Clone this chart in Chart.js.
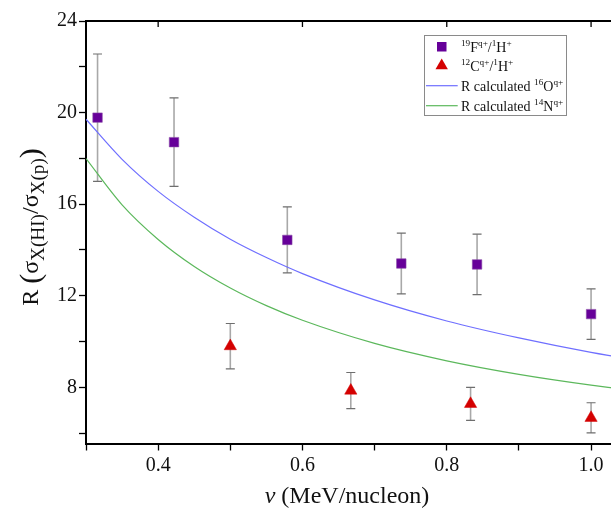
<!DOCTYPE html>
<html lang="en">

<head>
  <meta charset="UTF-8">
  <title>R ratio vs velocity</title>
  <script src="https://cdn.jsdelivr.net/npm/chart.js"></script>
  <style>
    body {
      margin: 0;
      background: #ffffff;
      overflow: hidden;
    }

    canvas {
      display: block;
    }
  </style>
</head>

<body>
  <canvas id="ratioChart" width="660" height="511"></canvas>

  <script>
    // measured points: 19F / 1H
    const fV = [0.316, 0.422, 0.579, 0.737, 0.842, 1.0];
    const fR = [19.78, 18.71, 14.44, 13.41, 13.37, 11.20];
    const fErr = [2.78, 1.93, 1.44, 1.33, 1.32, 1.10];

    // measured points: 12C / 1H
    const cV = [0.5, 0.667, 0.833, 1.0];
    const cR = [9.80, 7.86, 7.28, 6.67];
    const cErr = [0.99, 0.79, 0.72, 0.66];

    // calculated curves
    const curveV = [0.30, 0.35, 0.40, 0.45, 0.50, 0.55, 0.60, 0.70, 0.80, 0.90, 1.00, 1.085];
    const oxygenR = [19.71, 17.96, 16.56, 15.43, 14.47, 13.67, 12.97, 11.82, 10.90, 10.16, 9.53, 9.08];
    const nitrogenR = [17.99, 15.97, 14.46, 13.28, 12.34, 11.57, 10.93, 9.92, 9.16, 8.57, 8.10, 7.77];

    // axis ticks
    const xMajor = [0.4, 0.6, 0.8, 1.0];
    const xMinor = [0.3, 0.5, 0.7, 0.9];
    const yMajor = [8, 12, 16, 20, 24];
    const yMinor = [6, 10, 14, 18, 22];

    const SERIF = '"Liberation Serif", "DejaVu Serif", serif';

    const legendRows = [
      [["19", "sup"], ["F", ""], ["q+", "sup"], ["/", ""], ["1", "sup"], ["H", ""], ["+", "sup"]],
      [["12", "sup"], ["C", ""], ["q+", "sup"], ["/", ""], ["1", "sup"], ["H", ""], ["+", "sup"]],
      [["R calculated ", ""], ["16", "sup"], ["O", ""], ["q+", "sup"]],
      [["R calculated ", ""], ["14", "sup"], ["N", ""], ["q+", "sup"]]
    ];
    const yTitle = [["R ", ""], ["(", "big"], ["σ", ""], ["X(HI)", "sub"], ["/", ""], ["σ", ""], ["X(p)", "sub"], [")", "big"]];

    const toPoints = (xs, ys) => xs.map((v, i) => ({ x: v, y: ys[i] }));
    const near = (v, list) => list.some(t => Math.abs(t - v) < 1e-6);

    function partSize(kind, size) {
      if (kind === 'big') return size * 1.25;
      if (kind === 'sub') return size * 0.8;
      if (kind === 'sup') return size * 0.66;
      return size;
    }

    function richWidth(ctx, parts, size) {
      let w = 0;
      parts.forEach(([t, kind]) => {
        ctx.font = partSize(kind, size) + 'px ' + SERIF;
        w += ctx.measureText(t).width;
      });
      return w;
    }

    function drawRich(ctx, parts, x, y, size) {
      parts.forEach(([t, kind]) => {
        ctx.font = partSize(kind, size) + 'px ' + SERIF;
        const dy = kind === 'sup' ? -size * 0.38 : kind === 'sub' ? size * 0.25 : kind === 'big' ? size * 0.08 : 0;
        ctx.fillText(t, x, y + dy);
        x += ctx.measureText(t).width;
      });
      return x;
    }

    const errorBars = {
      id: 'errorBars',
      beforeDatasetsDraw(chart) {
        const { ctx, scales: { x, y } } = chart;
        ctx.save();
        [[fV, fR, fErr], [cV, cR, cErr]].forEach(([vs, rs, es]) => {
          vs.forEach((v, i) => {
            const px = x.getPixelForValue(v);
            const top = y.getPixelForValue(rs[i] + es[i]);
            const bot = y.getPixelForValue(rs[i] - es[i]);
            ctx.strokeStyle = '#a8a8a8';
            ctx.lineWidth = 1.6;
            ctx.beginPath();
            ctx.moveTo(px, top);
            ctx.lineTo(px, bot);
            ctx.stroke();
            ctx.strokeStyle = '#6e6e6e';
            ctx.lineWidth = 1.2;
            ctx.beginPath();
            ctx.moveTo(px - 4.5, top);
            ctx.lineTo(px + 4.5, top);
            ctx.moveTo(px - 4.5, bot);
            ctx.lineTo(px + 4.5, bot);
            ctx.stroke();
          });
        });
        ctx.restore();
      }
    };

    const decorations = {
      id: 'decorations',
      afterDraw(chart) {
        const { ctx, chartArea, scales: { x } } = chart;
        ctx.save();

        // top frame line with inward major ticks
        ctx.strokeStyle = '#000';
        ctx.lineWidth = 2;
        ctx.beginPath();
        ctx.moveTo(chartArea.left - 1, chartArea.top);
        ctx.lineTo(chartArea.right, chartArea.top);
        ctx.stroke();
        ctx.lineWidth = 1.3;
        ctx.beginPath();
        xMajor.forEach(v => {
          const px = x.getPixelForValue(v);
          ctx.moveTo(px, chartArea.top);
          ctx.lineTo(px, chartArea.top + 6);
        });
        ctx.stroke();

        // axis titles
        ctx.fillStyle = '#111';
        ctx.textBaseline = 'alphabetic';
        ctx.textAlign = 'left';
        ctx.font = 'italic 24px ' + SERIF;
        const vw = ctx.measureText('v').width;
        ctx.font = '24px ' + SERIF;
        const restW = ctx.measureText(' (MeV/nucleon)').width;
        const tx = 347 - (vw + restW) / 2;
        ctx.font = 'italic 24px ' + SERIF;
        ctx.fillText('v', tx, 503);
        ctx.font = '24px ' + SERIF;
        ctx.fillText(' (MeV/nucleon)', tx + vw, 503);

        ctx.save();
        ctx.translate(38, 227);
        ctx.rotate(-Math.PI / 2);
        const tw = richWidth(ctx, yTitle, 24);
        drawRich(ctx, yTitle, -tw / 2, 0, 24);
        ctx.restore();

        // legend box
        ctx.strokeStyle = '#8a8a8a';
        ctx.lineWidth = 1;
        ctx.strokeRect(424.5, 35.5, 142, 80);
        const rowY = [46.7, 65.7, 85.7, 105.7];
        // square marker
        ctx.fillStyle = '#660099';
        ctx.fillRect(437, 42, 9.5, 9.5);
        // triangle marker
        ctx.fillStyle = '#d40000';
        ctx.beginPath();
        ctx.moveTo(441.7, 58.6);
        ctx.lineTo(447.9, 69.2);
        ctx.lineTo(435.5, 69.2);
        ctx.closePath();
        ctx.fill();
        // line samples
        ctx.lineWidth = 1.2;
        ctx.strokeStyle = '#6f6fff';
        ctx.beginPath();
        ctx.moveTo(426, rowY[2]);
        ctx.lineTo(457.7, rowY[2]);
        ctx.stroke();
        ctx.strokeStyle = '#5cb85c';
        ctx.beginPath();
        ctx.moveTo(426, rowY[3]);
        ctx.lineTo(457.7, rowY[3]);
        ctx.stroke();
        ctx.fillStyle = '#111';
        legendRows.forEach((row, i) => drawRich(ctx, row, 461, rowY[i] + 5, 14));

        ctx.restore();
      }
    };

    const ctx = document.getElementById('ratioChart').getContext('2d');
    new Chart(ctx, {
      type: 'scatter',
      data: {
        datasets: [
          {
            label: '19F/1H',
            data: toPoints(fV, fR),
            pointStyle: 'rect',
            pointRadius: 6.7,
            backgroundColor: '#660099',
            borderColor: '#8a4aa8',
            borderWidth: 0.6
          },
          {
            label: '12C/1H',
            data: toPoints(cV, cR),
            pointStyle: 'triangle',
            pointRadius: 7.1,
            backgroundColor: '#d40000',
            borderColor: '#d40000',
            borderWidth: 0.5
          },
          {
            type: 'line',
            label: 'R calculated 16O',
            data: toPoints(curveV, oxygenR),
            borderColor: '#6f6fff',
            borderWidth: 1.2,
            pointRadius: 0,
            cubicInterpolationMode: 'monotone',
            fill: false
          },
          {
            type: 'line',
            label: 'R calculated 14N',
            data: toPoints(curveV, nitrogenR),
            borderColor: '#5cb85c',
            borderWidth: 1.2,
            pointRadius: 0,
            cubicInterpolationMode: 'monotone',
            fill: false
          }
        ]
      },
      options: {
        responsive: false,
        animation: false,
        layout: { padding: { top: 21, left: 0, right: 0, bottom: 0 } },
        plugins: {
          legend: { display: false },
          tooltip: { enabled: false }
        },
        scales: {
          x: {
            type: 'linear',
            min: 0.3,
            max: 1.085,
            afterFit: s => { s.height = 67.5; },
            afterBuildTicks: s => {
              s.ticks = xMinor.concat(xMajor).sort((a, b) => a - b).map(v => ({ value: v }));
            },
            ticks: {
              autoSkip: false,
              maxRotation: 0,
              padding: 3,
              color: '#111',
              font: { family: SERIF, size: 20 },
              callback: v => near(v, xMajor) ? v.toFixed(1) : ''
            },
            grid: { drawOnChartArea: false, tickLength: 7, color: '#000', tickWidth: 1.3 },
            border: { color: '#000', width: 2 }
          },
          y: {
            min: 5.55,
            max: 24,
            afterFit: s => { s.width = 86; },
            afterBuildTicks: s => {
              s.ticks = yMinor.concat(yMajor).sort((a, b) => a - b).map(v => ({ value: v }));
            },
            ticks: {
              autoSkip: false,
              padding: 2,
              color: '#111',
              font: { family: SERIF, size: 20 },
              callback: v => near(v, yMajor) ? String(v) : ''
            },
            grid: { drawOnChartArea: false, tickLength: 7, color: '#000', tickWidth: 1.3 },
            border: { color: '#000', width: 2 }
          }
        }
      },
      plugins: [errorBars, decorations]
    });
  </script>
</body>

</html>
